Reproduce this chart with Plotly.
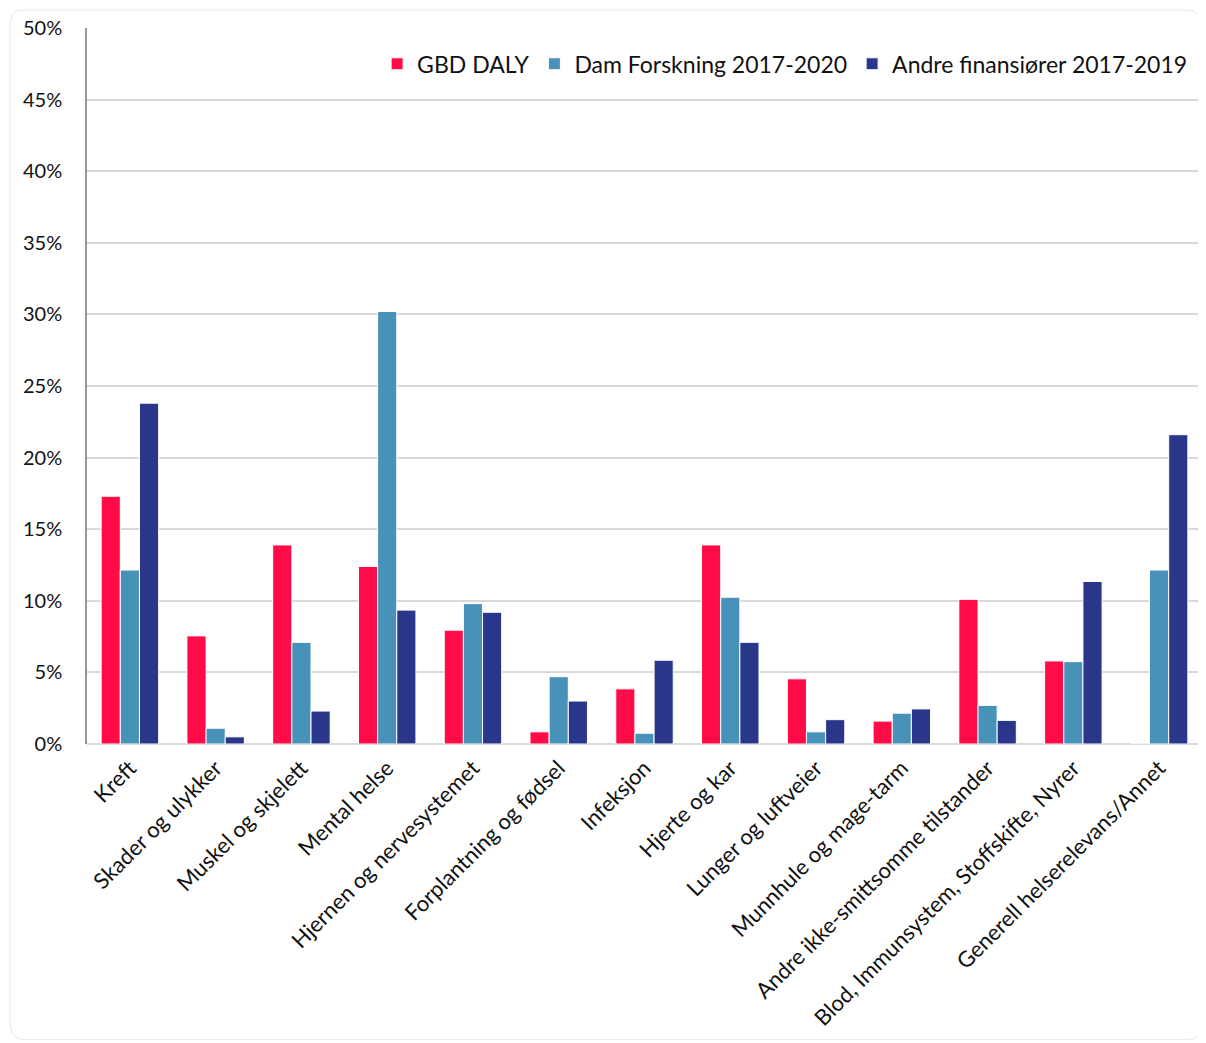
import plotly.graph_objects as go

categories = [
    "Kreft", "Skader og ulykker", "Muskel og skjelett", "Mental helse",
    "Hjernen og nervesystemet", "Forplantning og fødsel", "Infeksjon",
    "Hjerte og kar", "Lunger og luftveier", "Munnhule og mage-tarm",
    "Andre ikke-smittsomme tilstander", "Blod, Immunsystem, Stoffskifte, Nyrer",
    "Generell helserelevans/Annet",
]
gbd_daly = [17.3, 7.55, 13.9, 12.4, 7.95, 0.85, 3.85, 13.9, 4.55, 1.6, 10.1, 5.8, 0.0]
dam_2017_2020 = [12.15, 1.1, 7.1, 30.2, 9.8, 4.7, 0.75, 10.25, 0.85, 2.15, 2.7, 5.75, 12.15]
andre_2017_2019 = [23.8, 0.5, 2.3, 9.35, 9.2, 3.0, 5.85, 7.1, 1.7, 2.45, 1.65, 11.35, 21.6]

series = [
    ("GBD DALY", gbd_daly, "#FF0B47"),
    ("Dam Forskning 2017-2020", dam_2017_2020, "#4891B8"),
    ("Andre finansiører 2017-2019", andre_2017_2019, "#29368A"),
]

FONT = "Lato, Carlito, 'Open Sans', sans-serif"

fig = go.Figure()
for name, vals, color in series:
    fig.add_trace(go.Bar(
        x=categories, y=vals, name=name,
        marker=dict(color=color, line=dict(color="white", width=1)),
    ))

# page body has an 8px margin, so the figure is sized to fit inside it
fig.update_layout(
    width=1198, height=1035,
    paper_bgcolor="white", plot_bgcolor="white",
    margin=dict(l=79, r=4, t=20, b=299),
    barmode="group", bargap=0.33, bargroupgap=0,
    font=dict(family=FONT, color="#111111"),
    legend=dict(
        orientation="h", x=0.992, xanchor="right", y=0.95, yanchor="middle",
        font=dict(size=23), itemwidth=30, traceorder="normal",
        bgcolor="rgba(0,0,0,0)",
    ),
    xaxis=dict(
        tickangle=-45, tickfont=dict(size=22), showgrid=False,
        showline=False, ticks="", zeroline=False, ticklabelstandoff=6,
    ),
    yaxis=dict(
        range=[0, 50], dtick=5, ticksuffix="%",
        tickfont=dict(size=20), gridcolor="#D9D9D9", gridwidth=1.5,
        showline=True, linecolor="#999999", linewidth=1.5,
        zeroline=True, zerolinecolor="#D9D9D9", zerolinewidth=1.5,
        ticklabelstandoff=19,
    ),
    shapes=[dict(
        type="path", xref="paper", yref="paper",
        path=("M -0.060,1.025 L 0.985,1.025 Q 1.001,1.025 1.001,1.0 "
              "L 1.001,-0.39 Q 1.001,-0.413 0.985,-0.413 L -0.055,-0.413 "
              "Q -0.069,-0.413 -0.069,-0.39 L -0.069,1.0 Q -0.069,1.025 -0.060,1.025 Z"),
        line=dict(color="#E8E8E8", width=1), layer="below",
    )],
)

fig.write_html("out.html")
